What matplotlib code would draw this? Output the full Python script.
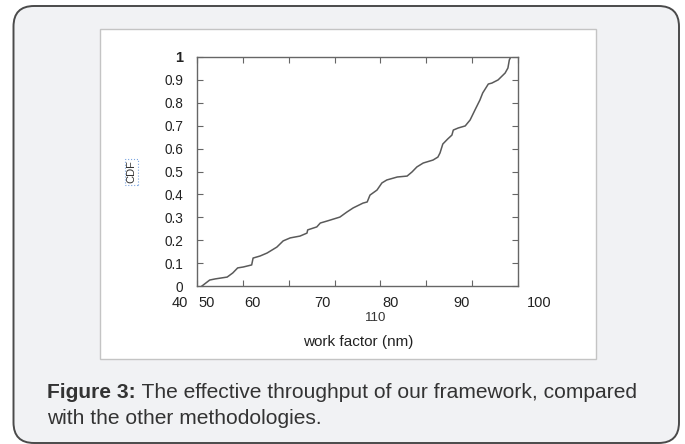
import numpy as np
import matplotlib.pyplot as plt
from matplotlib.patches import FancyBboxPatch, Rectangle
import matplotlib.transforms as mtransforms

plt.rcParams['font.family'] = ['Liberation Sans', 'DejaVu Sans']

# CDF curve
work_factor = [53.0, 54.1, 54.9, 56.6, 57.4, 58.1, 58.9, 60.1, 60.3, 61.3,
               62.3, 63.0, 63.7, 64.6, 65.6, 67.0, 68.0, 68.1, 69.4, 69.9,
               70.9, 72.7, 73.7, 74.6, 76.0, 76.6, 77.0, 78.0, 78.7, 79.4,
               80.9, 82.3, 83.0, 83.7, 84.6, 86.0, 86.7, 87.0, 87.4, 88.1,
               88.7, 88.9, 89.6, 90.6, 91.3, 92.0, 92.7, 93.1, 93.9, 94.4,
               95.3, 96.3, 96.7, 96.9, 97.1]
cdf = [0.0, 0.026, 0.031, 0.039, 0.057, 0.079, 0.083, 0.092, 0.122, 0.131,
       0.144, 0.157, 0.170, 0.197, 0.210, 0.218, 0.231, 0.245, 0.258, 0.275,
       0.284, 0.301, 0.323, 0.341, 0.362, 0.367, 0.397, 0.419, 0.450, 0.463,
       0.476, 0.480, 0.498, 0.520, 0.537, 0.550, 0.563, 0.581, 0.620, 0.642,
       0.659, 0.681, 0.690, 0.699, 0.725, 0.769, 0.812, 0.843, 0.882, 0.886,
       0.900, 0.930, 0.952, 0.987, 1.0]

x_labels = ['40', '50', '60', '70', '80', '90', '100']
y_ticks = [0, 0.1, 0.2, 0.3, 0.4, 0.5, 0.6, 0.7, 0.8, 0.9, 1]
y_labels = ['0', '0.1', '0.2', '0.3', '0.4', '0.5', '0.6', '0.7', '0.8', '0.9', '1']
caption_bold = 'Figure 3:'
caption_rest = ' The effective throughput of our framework, compared'
caption_line2 = 'with the other methodologies.'

# layout (the x tick labels in the original are not aligned to the ticks)
xlim = (52.29, 98.14)
x_label_pos = [49.86, 53.71, 60.14, 70.14, 80.0, 90.14, 101.14]

W, H = 685, 444
fig = plt.figure(figsize=(W / 100, H / 100), dpi=100)
fig.patch.set_facecolor('white')

# card background
card = FancyBboxPatch((13.5 / W, 1 - 443 / H), (679 - 13.5) / W, (443 - 6) / H,
                      boxstyle='round,pad=0,rounding_size=0.03',
                      transform=fig.transFigure, facecolor='#f1f2f4',
                      edgecolor='#4a4a4a', linewidth=1.4, zorder=0,
                      mutation_aspect=W / H)
fig.patches.append(card)

# white picture panel
panel = Rectangle((99.5 / W, 1 - 359 / H), (596 - 99.5) / W, (359 - 29) / H,
                  transform=fig.transFigure, facecolor='white',
                  edgecolor='#c4c4c4', linewidth=1.0, zorder=1)
fig.patches.append(panel)

ax = fig.add_axes([197 / W, 1 - 286 / H, (518 - 197) / W, (286 - 57) / H])
ax.set_zorder(3)
ax.set_facecolor('white')
ax.plot(work_factor, cdf, color='#5a5a5a', linewidth=1.1)
ax.set_xlim(*xlim)
ax.set_ylim(0, 1)

for s in ax.spines.values():
    s.set_color('#666666')
    s.set_linewidth(1.0)

ax.set_xticks(np.linspace(xlim[0], xlim[1], 8))
ax.set_xticklabels([])
ax.set_yticks(y_ticks)
ax.set_yticklabels(y_labels, fontsize=9.8, color='#222222')
ax.get_yticklabels()[-1].set_fontsize(10.5)
ax.get_yticklabels()[-1].set_fontweight('bold')
ax.tick_params(direction='in', length=4, width=0.8, color='#666666',
               top=True, right=True, pad=10)

trans = mtransforms.blended_transform_factory(ax.transData, ax.transAxes)
for pos, lab in zip(x_label_pos, x_labels):
    ax.text(pos, -17 / 229, lab, transform=trans, ha='center', va='center',
            fontsize=10.5, color='#222222', clip_on=False)

fig.text(376 / W, 1 - 318 / H, '110', ha='center', va='center',
         fontsize=9.5, color='#333333', zorder=4)
fig.text(358 / W, 1 - 342 / H, 'work factor (nm)', ha='center', va='center',
         fontsize=11, color='#222222', zorder=4)
fig.text(131.5 / W, 1 - 172 / H, 'CDF', ha='center', va='center', rotation=90,
         fontsize=8, color='#333333', zorder=4,
         bbox=dict(boxstyle='square,pad=0.15', facecolor='none',
                   edgecolor='#7fa7e0', linestyle=':', linewidth=0.8))

# caption
t1 = fig.text(47 / W, 1 - 397.5 / H, caption_bold, ha='left', va='baseline',
              fontsize=15.1, fontweight='bold', color='#333333')
fig.canvas.draw()
bb = t1.get_window_extent()
fig.text(bb.x1 / W, 1 - 397.5 / H, caption_rest, ha='left', va='baseline',
         fontsize=15.1, color='#333333')
fig.text(47 / W, 1 - 424 / H, caption_line2, ha='left', va='baseline',
         fontsize=15.1, color='#333333')

fig.savefig('out.png', dpi=100)
